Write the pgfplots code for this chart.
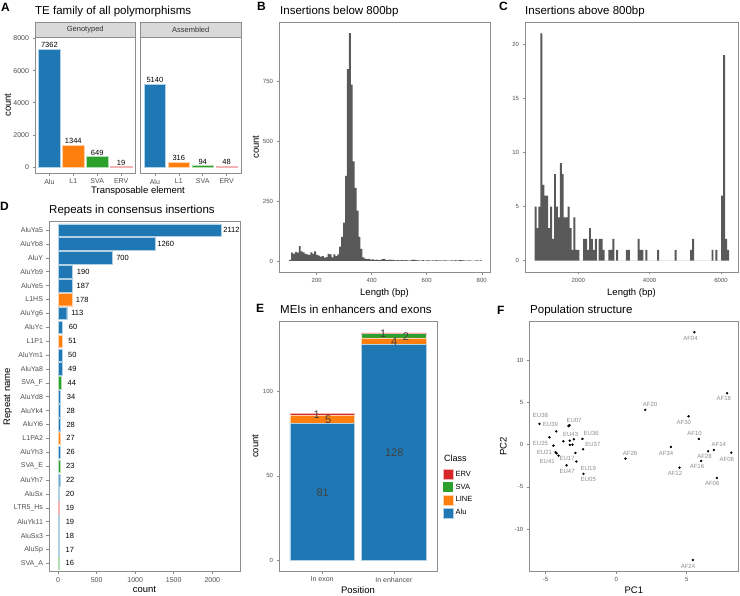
\documentclass[border=0pt]{standalone}
\usepackage{fontspec}
\setmainfont{Liberation Sans}
\usepackage{pgfplots}
\pgfplotsset{compat=1.18}
\definecolor{cAlu}{HTML}{1F77B4}
\definecolor{cL1}{HTML}{FF7F0E}
\definecolor{cSVA}{HTML}{2CA02C}
\definecolor{cERV}{HTML}{D62728}
\definecolor{hist}{HTML}{595959}
\definecolor{tickc}{HTML}{4D4D4D}
\definecolor{border}{HTML}{8C8C8C}
\definecolor{strip}{HTML}{D9D9D9}
\newcommand{\fs}[1]{\fontsize{#1}{#1}\selectfont}
\pgfplotsset{
  /pgf/number format/1000 sep={},
  /pgf/number format/assume math mode=true,
  gg/.style={
    scale only axis, anchor=north west,
    axis line style={border, line width=0.6pt},
    tick style={border, line width=0.5pt},
    tick align=outside, major tick length=2.5pt,
    xtick pos=left, ytick pos=left,
    scaled ticks=false, minor tick num=0,
    tick label style={color=tickc},
    label style={font=\fs{9.5}, color=black},
  },
  yl/.style={ylabel style={at={(axis description cs:#1,0.5)}, anchor=center, rotate=0}},
  xl/.style={xlabel style={at={(axis description cs:0.5,#1)}, anchor=center}},
}
\begin{document}
\begin{tikzpicture}
\path[use as bounding box] (0pt,0pt) rectangle (740pt,-596pt);

% ---------------- Panel A ----------------
\begin{axis}[gg, at={(35pt,-37pt)}, width=100.5pt, height=136pt,
  xmin=0.4, xmax=4.6, ymin=-374, ymax=8093,
  xtick={1,2,3,4}, xticklabels={Alu,L1,SVA,ERV},
  ytick={0,2000,4000,6000,8000},
  tick label style={font=\fs{7}},
  ybar, bar width=0.9, bar shift=0pt,
  nodes near coords, nodes near coords style={font=\fs{7.5}, color=black, inner sep=1.2pt},
  ylabel={count}, yl=-0.27]
\addplot[fill=cAlu, draw=cAlu!35] coordinates {(1,7362)};
\addplot[fill=cL1, draw=cL1!35] coordinates {(2,1344)};
\addplot[fill=cSVA, draw=cSVA!35] coordinates {(3,649)};
\addplot[fill=cERV, draw=cERV!35] coordinates {(4,19)};
\end{axis}
\begin{axis}[gg, at={(140.5pt,-37pt)}, width=100.5pt, height=136pt,
  xmin=0.4, xmax=4.6, ymin=-374, ymax=8093,
  xtick={1,2,3,4}, xticklabels={Alu,L1,SVA,ERV},
  ytick={0,2000,4000,6000,8000}, yticklabels={}, ytick style={draw=none},
  tick label style={font=\fs{7}},
  ybar, bar width=0.9, bar shift=0pt,
  nodes near coords, nodes near coords style={font=\fs{7.5}, color=black, inner sep=1.2pt}]
\addplot[fill=cAlu, draw=cAlu!35] coordinates {(1,5140)};
\addplot[fill=cL1, draw=cL1!35] coordinates {(2,316)};
\addplot[fill=cSVA, draw=cSVA!35] coordinates {(3,94)};
\addplot[fill=cERV, draw=cERV!35] coordinates {(4,48)};
\end{axis}
\draw[fill=strip, draw=border, line width=0.6pt] (35pt,-22pt) rectangle (135.5pt,-37pt);
\draw[fill=strip, draw=border, line width=0.6pt] (140.5pt,-22pt) rectangle (241pt,-37pt);
\node[font=\fs{7.5}, color=black!80] at (85.25pt,-29.5pt) {Genotyped};
\node[font=\fs{7.5}, color=black!80] at (190.75pt,-29.5pt) {Assembled};
\node[anchor=base, font=\fs{9.5}] at (138pt,-194pt) {Transposable element};
\node[anchor=base west, font=\bfseries\fs{12}, inner sep=0pt] at (1pt,-12pt) {A};
\node[anchor=base west, font=\fs{11.5}, inner sep=0pt] at (35pt,-15pt) {TE family of all polymorphisms};

% ---------------- Panel B ----------------
\begin{axis}[gg, at={(279pt,-22pt)}, width=211pt, height=250pt,
  xmin=63, xmax=830, ymin=-46, ymax=996,
  xtick={200,400,600,800}, ytick={0,250,500,750},
  tick label style={font=\fs{6}},
  xlabel={Length (bp)}, ylabel={count}, yl=-0.11, xl=-0.086]
\addplot[ybar interval, fill=hist, draw=none] coordinates {
(100,5)(107,35)(114,30)(121,38)(128,35)(135,62)(142,40)(149,36)(156,30)(163,28)
(170,25)(177,36)(184,30)(191,40)(198,25)(205,22)(212,18)(219,20)(226,14)(233,16)
(240,30)(247,28)(254,15)(261,28)(268,20)(275,28)(282,60)(289,100)(296,160)(303,355)
(310,800)(317,950)(324,735)(331,415)(338,305)(345,210)(352,100)(359,50)(366,15)(373,10)
(380,8)(387,9)(394,6)(401,7)(408,5)(415,6)(422,4)(429,5)(436,8)(443,9)
(450,3)(457,5)(464,6)(471,5)(478,4)(485,2)(492,3)(499,2)(506,3)(513,2)
(520,4)(527,2)(534,1)(541,3)(548,6)(555,4)(562,2)(569,2)(576,1)(583,3)
(590,1)(597,2)(604,2)(611,1)(618,2)(625,1)(632,3)(639,1)(646,2)(653,1)
(660,2)(667,2)(674,1)(681,1)(688,2)(695,1)(702,3)(709,1)(716,4)(723,3)
(730,2)(737,1)(744,1)(751,2)(758,1)(765,0)(772,1)(779,2)(786,1)(793,2)
(800,0)};
\end{axis}
\node[anchor=base west, font=\bfseries\fs{12}, inner sep=0pt] at (257pt,-11pt) {B};
\node[anchor=base west, font=\fs{11.5}, inner sep=0pt] at (280pt,-15pt) {Insertions below 800bp};

% ---------------- Panel C ----------------
\begin{axis}[gg, at={(525pt,-22pt)}, width=213pt, height=250pt,
  xmin=506, xmax=6476, ymin=-1.05, ymax=22.05,
  xtick={2000,4000,6000}, ytick={0,5,10,15,20},
  tick label style={font=\fs{6}},
  xlabel={Length (bp)}, xl=-0.086]
\addplot[ybar interval, fill=hist, draw=none] coordinates {
(774,5)(828.5,3)(883,5)(937.5,21)(992,7)(1046.5,6)(1101,6)(1155.5,3)(1210,5)(1264.5,2)
(1319,8)(1373.5,5)(1428,4)(1482.5,9)(1537,8)(1591.5,4)(1646,4)(1700.5,5)(1755,3)(1809.5,1)
(1864,4)(1918.5,1)(1973,1)(2027.5,0)(2082,0)(2136.5,2)(2191,2)(2245.5,1)(2300,3)(2354.5,2)
(2409,1)(2463.5,2)(2518,0)(2572.5,2)(2627,2)(2681.5,1)(2736,0)(2790.5,0)(2845,1)(2899.5,1)
(2954,2)(3008.5,0)(3063,1)(3117.5,0)(3172,0)(3226.5,0)(3281,0)(3335.5,1)(3390,1)(3444.5,0)
(3499,0)(3553.5,0)(3608,0)(3662.5,2)(3717,1)(3771.5,1)(3826,0)(3880.5,1)(3935,0)(3989.5,0)
(4044,0)(4098.5,0)(4153,0)(4207.5,1)(4262,0)(4316.5,0)(4371,0)(4425.5,0)(4480,0)(4534.5,0)
(4589,0)(4643.5,0)(4698,1)(4752.5,0)(4807,0)(4861.5,0)(4916,0)(4970.5,0)(5025,0)(5079.5,0)
(5134,1)(5188.5,2)(5243,0)(5297.5,0)(5352,0)(5406.5,0)(5461,0)(5515.5,0)(5570,0)(5624.5,0)
(5679,0)(5733.5,1)(5788,0)(5842.5,1)(5897,0)(5951.5,0)(6006,6)(6060.5,19)(6115,2)(6169.5,1)
(6224,0)};
\end{axis}
\node[anchor=base west, font=\bfseries\fs{12}, inner sep=0pt] at (499pt,-11pt) {C};
\node[anchor=base west, font=\fs{11.5}, inner sep=0pt] at (525pt,-15pt) {Insertions above 800bp};

% ---------------- Panel D ----------------
\begin{axis}[gg, at={(49pt,-221.7pt)}, width=191pt, height=350pt,
  xmin=-117, xmax=2359, ymin=0.4, ymax=25.6, y dir=reverse,
  xtick={0,500,1000,1500,2000},
  ytick={1,...,25},
  yticklabels={AluYa5,AluYb8,AluY,AluYb9,AluYe5,L1HS,AluYg6,AluYc,L1P1,AluYm1,AluYa8,SVA\_F,AluYd8,AluYk4,AluYi6,L1PA2,AluYh3,SVA\_E,AluYh7,AluSx,LTR5\_Hs,AluYk11,AluSx3,AluSp,SVA\_A},
  tick label style={font=\fs{7}},
  xbar, bar width=0.9, bar shift=0pt, point meta=x,
  nodes near coords, nodes near coords style={anchor=center, xshift=10.5pt, font=\fs{7.5}, color=black},
  xlabel={count}, ylabel={Repeat name}, yl=-0.215, xl=-0.052]
\addplot[fill=cAlu, draw=cAlu!35] coordinates {(2112,1) (1260,2) (700,3) (190,4) (187,5) (113,7) (60,8) (50,10) (49,11) (34,13) (28,14) (28,15) (26,17) (22,19) (20,20) (19,22) (18,23) (17,24)};
\addplot[fill=cL1, draw=cL1!35] coordinates {(178,6) (51,9) (27,16)};
\addplot[fill=cSVA, draw=cSVA!35] coordinates {(44,12) (23,18) (16,25)};
\addplot[fill=cERV, draw=cERV!35] coordinates {(19,21)};
\end{axis}
\node[anchor=base west, font=\bfseries\fs{12}, inner sep=0pt] at (0pt,-211pt) {D};
\node[anchor=base west, font=\fs{11.5}, inner sep=0pt] at (49pt,-214pt) {Repeats in consensus insertions};

% ---------------- Panel E ----------------
\begin{axis}[gg, at={(279pt,-321.7pt)}, width=158pt, height=249.3pt,
  xmin=0.4, xmax=2.6, ymin=-6.53, ymax=141.6,
  ybar stacked, bar width=0.9,
  xtick={1,2}, xticklabels={In exon,In enhancer}, ytick={0,50,100},
  yticklabel style={font=\fs{6}}, xticklabel style={font=\fs{7}},
  xlabel={Position}, ylabel={count}, yl=-0.15, xl=-0.076,
  reverse legend,
  legend image code/.code={\path[#1] (0pt,-5pt) rectangle (10pt,5pt);},
  legend style={at={(1.038,0.409)}, anchor=north west, draw=none, fill=none,
    font=\fs{7.5}, inner sep=0pt, row sep=2pt, cells={anchor=west}}]
\addplot[fill=cAlu, draw=cAlu!35] coordinates {(1,81) (2,128)};
\addplot[fill=cL1, draw=cL1!35] coordinates {(1,5) (2,4)};
\addplot[fill=cSVA, draw=none] coordinates {(1,0) (2,2)};
\addplot[fill=cERV, draw=cERV!35] coordinates {(1,1) (2,1)};
\legend{Alu,LINE,SVA,ERV}
\end{axis}
\begin{scope}[every node/.style={font=\fs{11}, color=black!75}]
\node at (322.7pt,-492.3pt) {81};
\node at (316.7pt,-415pt) {1};
\node at (328.3pt,-420pt) {5};
\node at (394.3pt,-452.7pt) {128};
\node at (383.3pt,-333.3pt) {1};
\node at (406pt,-336.7pt) {2};
\node at (394.3pt,-341.7pt) {4};
\end{scope}
\node[anchor=base west, font=\fs{9}, inner sep=0pt] at (444pt,-461pt) {Class};
\node[anchor=base west, font=\bfseries\fs{12}, inner sep=0pt] at (256pt,-313pt) {E};
\node[anchor=base west, font=\fs{11.5}, inner sep=0pt] at (280pt,-314pt) {MEIs in enhancers and exons};

% ---------------- Panel F ----------------
\begin{axis}[gg, at={(529.3pt,-321.7pt)}, width=209pt, height=250pt,
  xmin=-6.16, xmax=8.66, ymin=-15.01, ymax=14.52,
  xtick={-5,0,5}, ytick={-10,-5,0,5,10},
  tick label style={font=\fs{6}},
  xlabel={PC1}, ylabel={PC2}, yl=-0.124, xl=-0.073]
\addplot[only marks, mark=*, mark size=1pt, black] table {
x y
5.55 13.28
7.87 6.07
2.06 4.10
5.13 3.35
5.86 0.67
6.93 -0.63
6.52 -0.78
8.16 -0.94
6.03 -1.93
7.14 -3.94
4.49 -2.71
3.88 -0.27
0.66 -1.65
5.44 -13.63
-5.44 2.45
-4.25 1.56
-4.73 0.87
-3.38 2.20
-3.31 2.29
-3.74 0.40
-4.45 -0.12
-3.29 0.48
-3.00 0.63
-3.29 -0.04
-3.10 0.00
-2.39 0.67
-2.34 -0.55
-4.30 -0.90
-4.23 -1.02
-4.09 -1.30
-2.89 -0.98
-2.82 -2.00
-3.52 -2.44
-2.32 -3.46
};
\addplot[only marks, mark=*, mark size=0pt, mark options={draw=none, fill=none},
  nodes near coords, point meta=explicit symbolic,
  nodes near coords style={anchor=center, font=\fs{6}, color=black!45, inner sep=0pt}]
  table[meta=lab] {
x y lab
-5.37 3.48 EU38
-4.66 2.37 EU39
-2.99 2.84 EU07
-3.23 1.23 EU43
-1.77 1.30 EU36
-5.37 0.12 EU25
-1.65 0.08 EU37
-5.08 -0.95 EU21
-3.48 -1.61 EU17
-4.89 -2.00 EU41
-3.48 -3.17 EU47
-1.97 -2.77 EU19
-1.97 -4.11 EU05
5.27 12.58 AF04
7.64 5.44 AF18
2.41 4.73 AF20
4.80 2.64 AF30
5.56 1.30 AF10
7.28 0.00 AF14
6.26 -1.42 AF28
7.85 -1.69 AF08
5.73 -2.59 AF16
6.81 -4.64 AF06
4.17 -3.45 AF12
3.53 -1.03 AF34
0.99 -1.03 AF26
5.09 -14.34 AF24
};
\end{axis}
\node[anchor=base west, font=\bfseries\fs{12}, inner sep=0pt] at (497pt,-315pt) {F};
\node[anchor=base west, font=\fs{11.5}, inner sep=0pt] at (530pt,-314pt) {Population structure};
\end{tikzpicture}
\end{document}
